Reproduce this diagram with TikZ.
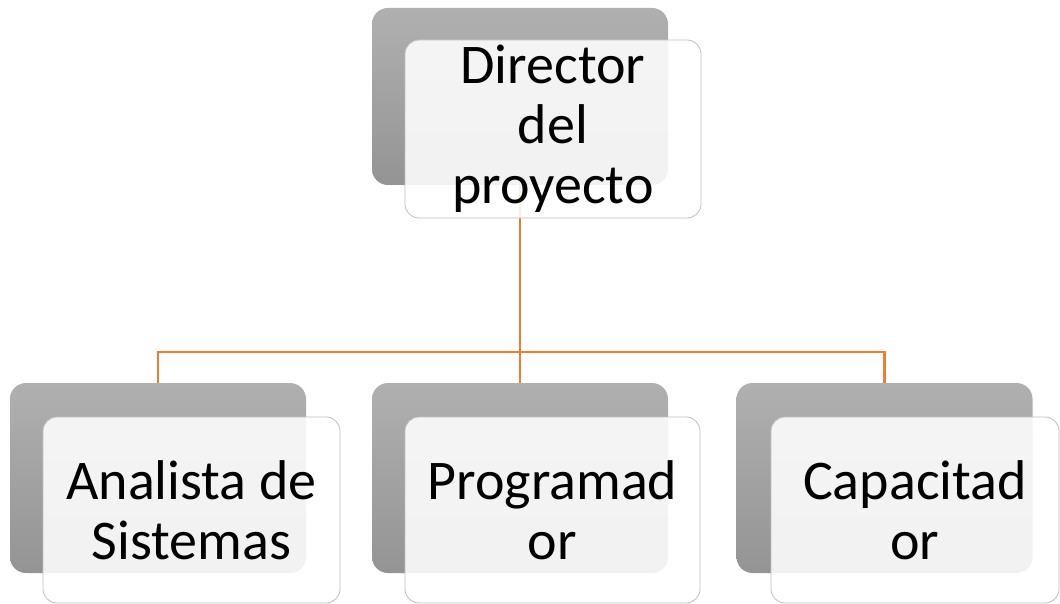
\documentclass[tikz,border=0pt]{standalone}
\usepackage{fontspec}
\setmainfont{Carlito}
\definecolor{connorange}{RGB}{237,125,49}
\begin{document}
\begin{tikzpicture}[x=1pt,y=-1pt,
  shadowbox/.style={draw=none, rounded corners=16pt, top color=black!31, bottom color=black!42, inner sep=0pt},
  frontbox/.style={draw=black!25, line width=0.8pt, rounded corners=14pt, fill=white, fill opacity=0.88, text opacity=1, inner sep=0pt, align=center, font=\fontsize{56}{60}\selectfont},
  conn/.style={draw=connorange, line width=2.6pt}]
\useasboundingbox (0,0) rectangle (1060,604);
% shadow boxes
\node[shadowbox, minimum width=296pt, minimum height=177pt] (gtop) at (520,96.5) {};
\node[shadowbox, minimum width=296pt, minimum height=190pt] (g1) at (158,478) {};
\node[shadowbox, minimum width=296pt, minimum height=190pt] (g2) at (520,478) {};
\node[shadowbox, minimum width=296pt, minimum height=190pt] (g3) at (884.5,478) {};
% connectors
\coordinate (bus) at (520,352);
\draw[conn] (gtop.south) -- (bus);
\draw[conn] (bus) -| (g1.north);
\draw[conn] (bus) -- (g2.north);
\draw[conn] (bus) -| (g3.north);
% front boxes
\node[frontbox, minimum width=296pt, minimum height=178pt] (top) at (553,129) {Director\\del\\proyecto};
\node[frontbox, minimum width=297pt, minimum height=186pt] (b1) at (191.5,510) {Analista de\\Sistemas};
\node[frontbox, minimum width=295pt, minimum height=186pt] (b2) at (552.5,510) {Programad\\or};
\node[frontbox, minimum width=288pt, minimum height=186pt] (b3) at (915,510) {Capacitad\\or};
\end{tikzpicture}
\end{document}
